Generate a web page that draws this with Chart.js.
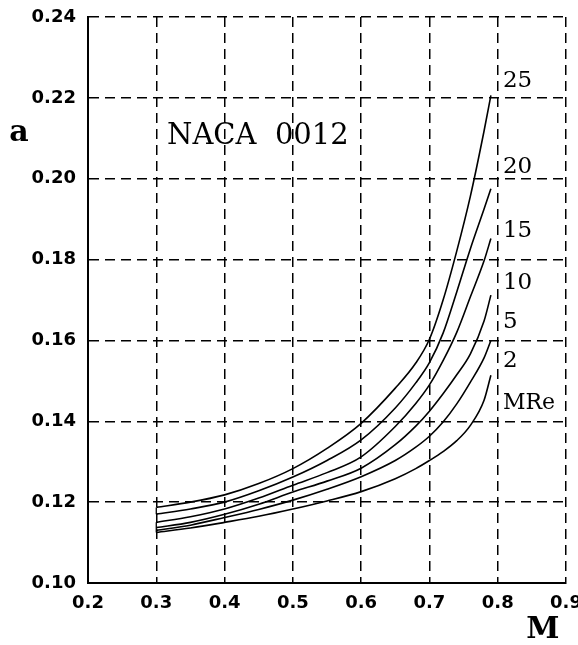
<!DOCTYPE html>
<html>
<head>
<meta charset="utf-8">
<script src="https://cdn.jsdelivr.net/npm/chart.js@4.4.0/dist/chart.umd.min.js"></script>
<style>
  html, body { margin: 0; padding: 0; background: #fff; }
  #wrap { width: 578px; height: 645px; }
</style>
</head>
<body>
<div id="wrap"><canvas id="chart" width="578" height="645"></canvas></div>
<script>
// Mach numbers where the curves were read
const machValues = [0.30, 0.35, 0.40, 0.45, 0.50, 0.55, 0.60, 0.65, 0.68, 0.70, 0.72, 0.74, 0.76, 0.78, 0.79];

// a vs M, one curve per Reynolds number (millions)
const re25 = [0.1187, 0.1200, 0.1218, 0.1246, 0.1283, 0.1333, 0.1395, 0.1482, 0.1544, 0.1603, 0.1700, 0.1821, 0.1957, 0.2118, 0.2206];
const re20 = [0.1170, 0.1183, 0.1200, 0.1228, 0.1262, 0.1303, 0.1354, 0.1433, 0.1495, 0.1545, 0.1618, 0.1720, 0.1827, 0.1925, 0.1975];
const re15 = [0.1150, 0.1164, 0.1183, 0.1210, 0.1242, 0.1273, 0.1312, 0.1387, 0.1444, 0.1490, 0.1550, 0.1620, 0.1708, 0.1797, 0.1852];
const re10 = [0.1137, 0.1150, 0.1170, 0.1195, 0.1225, 0.1252, 0.1284, 0.1342, 0.1388, 0.1425, 0.1468, 0.1515, 0.1567, 0.1648, 0.1712];
const re5  = [0.1130, 0.1143, 0.1162, 0.1182, 0.1205, 0.1232, 0.1263, 0.1303, 0.1336, 0.1363, 0.1398, 0.1443, 0.1497, 0.1557, 0.1600];
const re2  = [0.1125, 0.1136, 0.1150, 0.1165, 0.1183, 0.1203, 0.1226, 0.1258, 0.1283, 0.1303, 0.1325, 0.1352, 0.1390, 0.1452, 0.1514];

const seriesList = [re25, re20, re15, re10, re5, re2];
const reLabels = ['25', '20', '15', '10', '5', '2'];
const unitLabel = 'MRe';

const xTickValues = [0.2, 0.3, 0.4, 0.5, 0.6, 0.7, 0.8, 0.9];
const xTickLabels = ['0.2', '0.3', '0.4', '0.5', '0.6', '0.7', '0.8', '0.9'];
const yTickValues = [0.10, 0.12, 0.14, 0.16, 0.18, 0.20, 0.22, 0.24];
const yTickLabels = ['0.10', '0.12', '0.14', '0.16', '0.18', '0.20', '0.22', '0.24'];

// where the curve labels sit, in data units
const curveLabelM = 0.8076;
const curveLabelA = [0.2241, 0.2028, 0.1870, 0.1742, 0.1645, 0.1549];
const unitLabelA = 0.1445;

const toPoints = (vals) => vals.map((v, i) => ({ x: machValues[i], y: v }));

const lineStyle = {
  showLine: true,
  borderColor: '#000',
  borderWidth: 1.6,
  pointRadius: 0,
  fill: false,
  cubicInterpolationMode: 'monotone'
};

const datasets = seriesList.map((vals, i) => ({
  label: reLabels[i],
  data: toPoints(vals),
  ...lineStyle
}));

// short vertical joins at the left ends of the curves
datasets.push({
  label: 'join top',
  data: [{ x: machValues[0], y: re25[0] }, { x: machValues[0], y: re20[0] }],
  ...lineStyle, cubicInterpolationMode: 'default', borderWidth: 1.3
});
datasets.push({
  label: 'join bottom',
  data: [{ x: machValues[0], y: re15[0] }, { x: machValues[0], y: re2[0] }],
  ...lineStyle, cubicInterpolationMode: 'default', borderWidth: 1.3
});

// Text drawn on top: titles and curve labels
const textPlugin = {
  id: 'chartText',
  afterDraw(chart) {
    const { ctx, chartArea } = chart;
    const xs = chart.scales.x;
    const ys = chart.scales.y;
    ctx.save();
    ctx.fillStyle = '#000';
    ctx.textBaseline = 'middle';

    ctx.textAlign = 'left';
    ctx.font = '23px "DejaVu Serif"';
    const lx = xs.getPixelForValue(curveLabelM);
    reLabels.forEach((t, i) => {
      ctx.fillText(t, lx, ys.getPixelForValue(curveLabelA[i]));
    });
    ctx.font = '22px "DejaVu Serif"';
    ctx.fillText(unitLabel, lx, ys.getPixelForValue(unitLabelA));

    ctx.font = '29px "DejaVu Serif"';
    ctx.fillText('NACA  0012', xs.getPixelForValue(0.3157), ys.getPixelForValue(0.2105));

    ctx.textAlign = 'center';
    ctx.font = 'bold 30px "DejaVu Serif"';
    ctx.fillText('a', chartArea.left - 69, ys.getPixelForValue(0.2112));
    ctx.fillText('M', xs.getPixelForValue(0.8662), chartArea.bottom + 47);
    ctx.restore();
  }
};

const tickFont = { family: 'DejaVu Sans', size: 18, weight: 'bold' };

new Chart(document.getElementById('chart'), {
  type: 'scatter',
  data: { datasets: datasets },
  options: {
    responsive: false,
    animation: false,
    layout: { padding: { top: 17, right: 12, bottom: 0, left: 0 } },
    plugins: {
      legend: { display: false },
      tooltip: { enabled: false }
    },
    scales: {
      x: {
        type: 'linear',
        min: 0.2,
        max: 0.9,
        afterBuildTicks: (scale) => { scale.ticks = xTickValues.map(v => ({ value: v })); },
        afterFit: (scale) => { scale.height = 62; scale.paddingLeft = 0; scale.paddingRight = 0; },
        ticks: {
          color: '#000',
          font: tickFont,
          padding: 10,
          maxRotation: 0,
          callback: (v, i) => xTickLabels[i]
        },
        grid: { color: '#000', lineWidth: 1.5, drawTicks: false },
        border: { display: true, color: '#000', width: 2, dash: [10, 6] }
      },
      y: {
        type: 'linear',
        min: 0.10,
        max: 0.24,
        afterBuildTicks: (scale) => { scale.ticks = yTickValues.map(v => ({ value: v })); },
        afterFit: (scale) => { scale.width = 88; scale.paddingTop = 0; scale.paddingBottom = 0; },
        ticks: {
          color: '#000',
          font: tickFont,
          padding: 12,
          callback: (v, i) => yTickLabels[i]
        },
        grid: { color: '#000', lineWidth: 1.5, drawTicks: false },
        border: { display: true, color: '#000', width: 2, dash: [10, 6] }
      }
    }
  },
  plugins: [textPlugin]
});
</script>
</body>
</html>
